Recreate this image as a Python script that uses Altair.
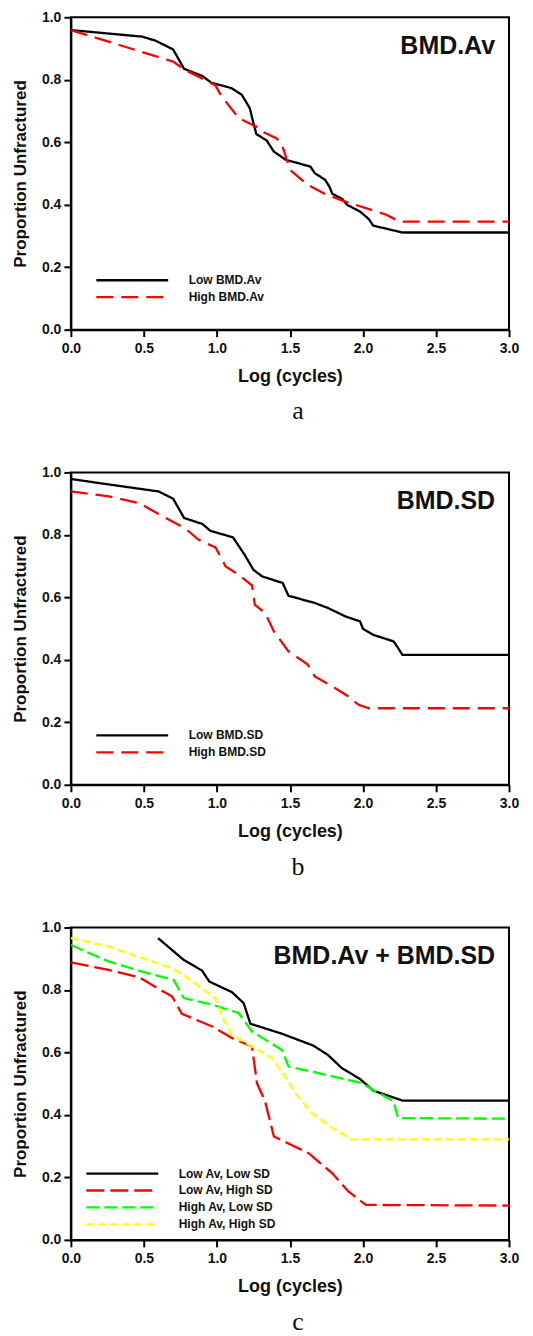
import altair as alt
import pandas as pd

# ---------------- data ----------------
# Panel a: BMD.Av
a_low_x = [0.0, 0.488, 0.58, 0.70, 0.775, 0.90, 0.96, 1.10, 1.17, 1.225, 1.25, 1.27, 1.34, 1.39, 1.47, 1.64, 1.67, 1.74, 1.77, 1.79, 1.86, 1.89, 1.98, 2.04, 2.07, 2.27, 3.0]
a_low_y = [0.959, 0.938, 0.925, 0.897, 0.835, 0.812, 0.791, 0.773, 0.752, 0.709, 0.661, 0.626, 0.606, 0.570, 0.544, 0.522, 0.501, 0.480, 0.458, 0.435, 0.418, 0.400, 0.378, 0.354, 0.333, 0.311, 0.311]
a_high_x = [0.0, 0.50, 0.70, 0.78, 0.99, 1.03, 1.15, 1.27, 1.32, 1.41, 1.45, 1.50, 1.62, 1.75, 1.88, 2.02, 2.16, 2.25, 3.0]
a_high_y = [0.959, 0.887, 0.858, 0.832, 0.782, 0.748, 0.677, 0.650, 0.632, 0.612, 0.586, 0.512, 0.464, 0.432, 0.410, 0.389, 0.368, 0.346, 0.346]

# Panel b: BMD.SD
b_low_x = [0.0, 0.19, 0.60, 0.70, 0.775, 0.90, 0.955, 1.11, 1.19, 1.25, 1.31, 1.45, 1.49, 1.67, 1.76, 1.88, 1.98, 2.00, 2.07, 2.21, 2.24, 2.27, 3.0]
b_low_y = [0.979, 0.966, 0.939, 0.916, 0.854, 0.835, 0.813, 0.792, 0.736, 0.688, 0.667, 0.646, 0.605, 0.582, 0.566, 0.539, 0.523, 0.499, 0.480, 0.459, 0.438, 0.416, 0.416]
b_high_x = [0.0, 0.26, 0.465, 0.60, 0.785, 0.875, 0.99, 1.06, 1.15, 1.24, 1.26, 1.33, 1.39, 1.49, 1.62, 1.67, 1.79, 1.89, 1.97, 2.04, 3.0]
b_high_y = [0.939, 0.923, 0.902, 0.867, 0.820, 0.784, 0.760, 0.699, 0.672, 0.638, 0.576, 0.550, 0.491, 0.427, 0.386, 0.347, 0.315, 0.286, 0.256, 0.245, 0.245]

# Panel c: BMD.Av + BMD.SD
c_ll_x = [0.597, 0.773, 0.898, 0.948, 1.103, 1.183, 1.229, 1.445, 1.66, 1.76, 1.855, 1.98, 2.07, 2.27, 3.0]
c_ll_y = [0.966, 0.896, 0.862, 0.827, 0.793, 0.758, 0.692, 0.660, 0.622, 0.592, 0.550, 0.515, 0.478, 0.446, 0.446]
c_lh_x = [0.0, 0.26, 0.465, 0.693, 0.76, 0.967, 1.103, 1.24, 1.274, 1.33, 1.39, 1.51, 1.63, 1.79, 1.90, 2.02, 3.0]
c_lh_y = [0.888, 0.864, 0.841, 0.779, 0.724, 0.683, 0.646, 0.619, 0.502, 0.443, 0.331, 0.304, 0.277, 0.213, 0.155, 0.112, 0.110]
c_hl_x = [0.0, 0.26, 0.488, 0.704, 0.773, 0.967, 1.149, 1.24, 1.445, 1.49, 1.695, 1.99, 2.21, 2.24, 3.0]
c_hl_y = [0.944, 0.891, 0.859, 0.832, 0.774, 0.753, 0.726, 0.667, 0.608, 0.555, 0.534, 0.502, 0.443, 0.390, 0.388]
c_hh_x = [0.0, 0.26, 0.488, 0.693, 0.784, 0.99, 1.035, 1.103, 1.24, 1.377, 1.468, 1.536, 1.65, 1.79, 1.924, 3.0]
c_hh_y = [0.966, 0.939, 0.902, 0.870, 0.843, 0.774, 0.715, 0.656, 0.619, 0.582, 0.523, 0.470, 0.406, 0.358, 0.322, 0.322]

x_ticks = [0.0, 0.5, 1.0, 1.5, 2.0, 2.5, 3.0]
y_ticks = [0.0, 0.2, 0.4, 0.6, 0.8, 1.0]

FONT = "Liberation Sans"


def frame(series):
    rows = []
    for name, xs, ys in series:
        for i, (x, y) in enumerate(zip(xs, ys)):
            rows.append({"series": name, "x": x, "y": y, "order": i})
    return pd.DataFrame(rows)


def panel(series, colors, dashes, label, caption, legend_x, legend_y, width=439, height=313):
    names = [s[0] for s in series]
    df = frame(series)
    lines = alt.Chart(df).mark_line(strokeWidth=2.3, clip=True).encode(
        x=alt.X("x:Q", scale=alt.Scale(domain=[0, 3], nice=False),
                axis=alt.Axis(values=x_ticks, format=".1f", title="Log (cycles)",
                              labelPadding=5, titlePadding=12, titleFontSize=18,
                              labelFlush=False)),
        y=alt.Y("y:Q", scale=alt.Scale(domain=[0, 1], nice=False),
                axis=alt.Axis(values=y_ticks, format=".1f", title="Proportion Unfractured",
                              labelPadding=3, titlePadding=12, titleFontSize=17,
                              labelFlush=False)),
        color=alt.Color("series:N", scale=alt.Scale(domain=names, range=colors),
                        legend=alt.Legend(orient="none", legendX=legend_x, legendY=legend_y,
                                          title=None, symbolType="M-6,0H6", symbolSize=144,
                                          symbolStrokeWidth=2.3, labelFont=FONT,
                                          labelFontSize=12, labelFontWeight="bold",
                                          labelColor="#111", labelOffset=49, rowPadding=3,
                                          padding=0)),
        strokeDash=alt.StrokeDash("series:N", scale=alt.Scale(domain=names, range=dashes),
                                  legend=None),
        order="order:Q",
    )
    txt = alt.Chart(pd.DataFrame({"t": [label]})).mark_text(
        font=FONT, fontSize=25, fontWeight="bold", align="right", baseline="alphabetic",
        color="#111"
    ).encode(text="t:N", x=alt.value(width - 14), y=alt.value(37))
    return alt.layer(lines, txt).properties(
        width=width, height=height,
        title=alt.TitleParams(text=caption, orient="bottom", font="Liberation Serif",
                              fontSize=26, fontWeight="normal", color="#111", offset=13, dx=8),
    ).resolve_scale(color="independent", strokeDash="independent")


pa = panel([("Low BMD.Av", a_low_x, a_low_y), ("High BMD.Av", a_high_x, a_high_y)],
           ["#000000", "#ff0000"], [[1, 0], [17, 8]], "BMD.Av", "a", 54, 256)
pb = panel([("Low BMD.SD", b_low_x, b_low_y), ("High BMD.SD", b_high_x, b_high_y)],
           ["#000000", "#ff0000"], [[1, 0], [17, 8]], "BMD.SD", "b", 54, 256)
pc = panel([("Low Av, Low SD", c_ll_x, c_ll_y), ("Low Av, High SD", c_lh_x, c_lh_y),
            ("High Av, Low SD", c_hl_x, c_hl_y), ("High Av, High SD", c_hh_x, c_hh_y)],
           ["#000000", "#ff0000", "#00ff00", "#ffff00"],
           [[1, 0], [18, 6], [13, 5], [8, 4]], "BMD.Av + BMD.SD", "c", 44, 239)

chart = alt.vconcat(pa, pb, pc, spacing=39).resolve_scale(
    color="independent", strokeDash="independent"
).resolve_legend(
    color="independent", strokeDash="independent"
).properties(
    padding={"left": 2, "top": 0, "right": 5, "bottom": 0}
).configure_view(
    stroke="black", strokeWidth=2
).configure_axis(
    labelFont=FONT, labelFontSize=14, labelFontWeight="bold", labelColor="#111",
    titleFont=FONT, titleFontWeight="bold", titleColor="#111",
    domainColor="black", domainWidth=2, tickColor="black", tickWidth=2, tickSize=7,
    grid=False
).configure_legend(
    labelLimit=300
)

chart.save("out.html", embed_options={"renderer": "svg", "actions": False})
